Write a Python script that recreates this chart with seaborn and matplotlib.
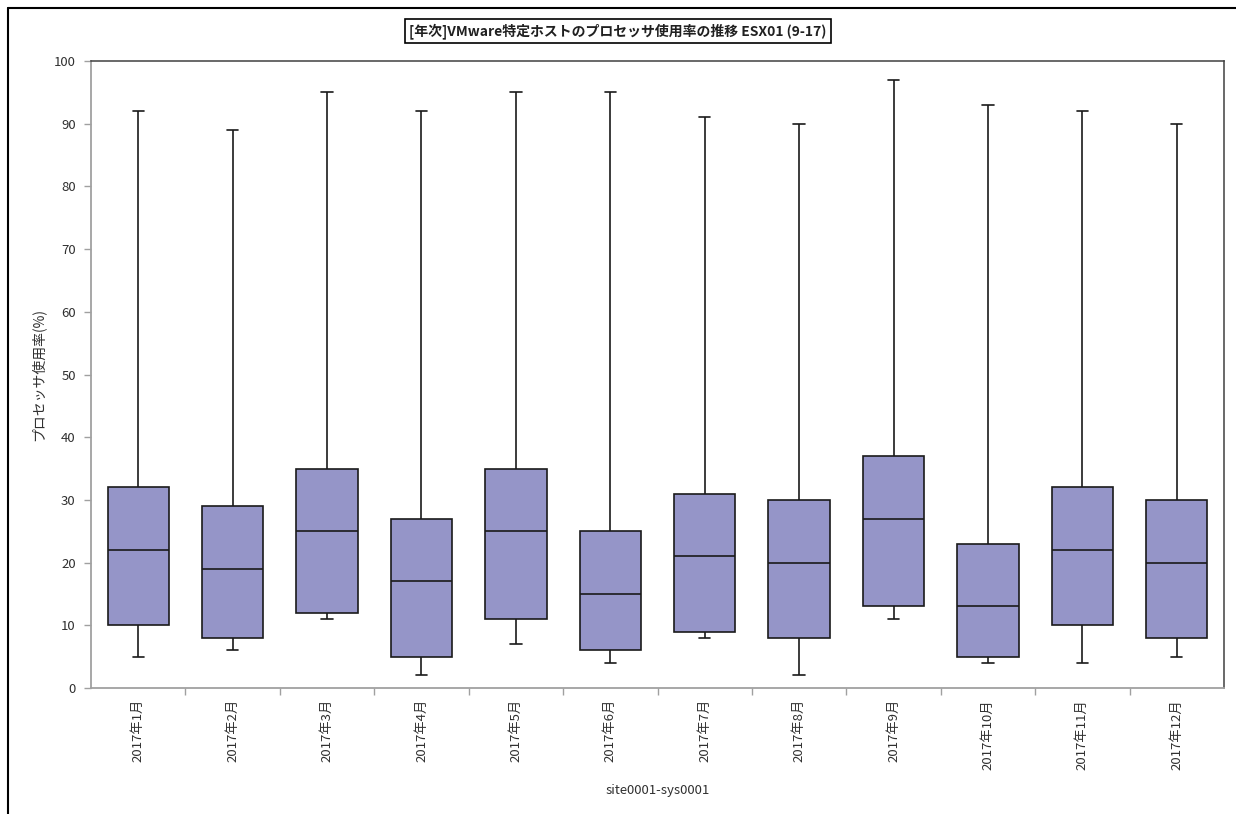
import numpy as np
import pandas as pd
import matplotlib
matplotlib.use("Agg")
import matplotlib.pyplot as plt
from matplotlib.lines import Line2D
import seaborn as sns

months = ["2017年1月", "2017年2月", "2017年3月", "2017年4月", "2017年5月", "2017年6月",
          "2017年7月", "2017年8月", "2017年9月", "2017年10月", "2017年11月", "2017年12月"]
mins    = [5, 6, 11, 2, 7, 4, 8, 2, 11, 4, 4, 5]
q1s     = [10, 8, 12, 5, 11, 6, 9, 8, 13, 5, 10, 8]
medians = [22, 19, 25, 17, 25, 15, 21, 20, 27, 13, 22, 20]
q3s     = [32, 29, 35, 27, 35, 25, 31, 30, 37, 23, 32, 30]
maxs    = [92, 89, 95, 92, 95, 95, 91, 90, 97, 93, 92, 90]

title = "[年次]VMware特定ホストのプロセッサ使用率の推移 ESX01 (9-17)"
ylabel = "プロセッサ使用率(%)"
xlabel = "site0001-sys0001"

rows = []
for m, a, b, c, d, e in zip(months, mins, q1s, medians, q3s, maxs):
    for v in (a, b, c, d, e):
        rows.append({"month": m, "value": v})
df = pd.DataFrame(rows)

sns.set_theme(style="white")
plt.rcParams["font.family"] = ["Noto Sans CJK JP", "DejaVu Sans"]

fig = plt.figure(figsize=(12.36, 8.14), dpi=100)
ax = fig.add_axes([91/1236, 1-688/814, (1224-91)/1236, (688-61)/814])

sns.boxplot(data=df, x="month", y="value", order=months, ax=ax,
            whis=(0, 100), width=0.65, color="#9595C8", saturation=1,
            linecolor="#1a1a1a", linewidth=1.2, showfliers=False,
            capwidths=0.12)

ax.set_ylim(0, 100)
ax.set_xlim(-0.5, 11.5)
ax.set_yticks(np.arange(0, 101, 10))
ax.set_xticks(range(12))
ax.set_xticklabels(months, rotation=90, fontsize=9.5, color="#303030")
ax.set_xticks(np.arange(0.5, 11.5, 1), minor=True)
ax.tick_params(axis="x", which="major", length=0, pad=8)
ax.tick_params(axis="x", which="minor", length=5, color="#a0a0a0", width=1, direction="out", bottom=True)
ax.tick_params(axis="y", length=5, color="#a0a0a0", width=1, direction="out", left=True,
               labelsize=9.5, labelcolor="#303030", pad=6)

ax.set_xlabel(xlabel, fontsize=9.5, color="#303030", labelpad=10)
ax.set_ylabel(ylabel, fontsize=10, color="#303030", labelpad=6)

for s in ["left", "bottom"]:
    ax.spines[s].set_color("#a0a0a0")
    ax.spines[s].set_linewidth(1.3)
for s in ["top", "right"]:
    ax.spines[s].set_color("#404040")
    ax.spines[s].set_linewidth(1.1)
ax.grid(False)

fig.text(618/1236, 1-31/814, title, ha="center", va="center", fontsize=10, fontweight="bold",
         color="#202020",
         bbox=dict(boxstyle="square,pad=0.3", facecolor="white", edgecolor="black", linewidth=1.2))

# outer frame (left and top edges)
fig.add_artist(Line2D([8/1236, 8/1236], [0, 1-8/814], transform=fig.transFigure, color="black", linewidth=1.5))
fig.add_artist(Line2D([8/1236, 1], [1-8/814, 1-8/814], transform=fig.transFigure, color="black", linewidth=1.5))

fig.savefig("out.png", dpi=100, facecolor="white")
